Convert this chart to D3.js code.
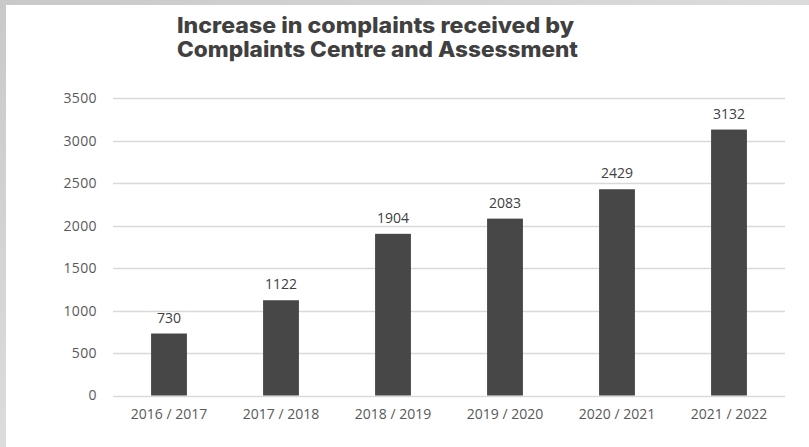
<!DOCTYPE html>
<html>
<head>
<meta charset="utf-8">
<script src="https://cdn.jsdelivr.net/npm/d3@7"></script>
<style>
  html, body { margin: 0; padding: 0; background: #d6d6d6; }
  svg { display: block; }
</style>
</head>
<body>
<script>
// Complaints received per financial year
const categories = ["2016 / 2017", "2017 / 2018", "2018 / 2019", "2019 / 2020", "2020 / 2021", "2021 / 2022"];
const complaints = [730, 1122, 1904, 2083, 2429, 3132];
const yTicks = [0, 500, 1000, 1500, 2000, 2500, 3000, 3500];
const titleLines = ["Increase in complaints received by", "Complaints Centre and Assessment"];

const W = 809, H = 447;
const svg = d3.select("body").append("svg").attr("width", W).attr("height", H);

// frame: grey backdrop with white card
const defs = svg.append("defs");
const g1 = defs.append("linearGradient").attr("id", "frame").attr("x1", 0).attr("x2", 1).attr("y1", 0).attr("y2", 1);
g1.append("stop").attr("offset", "0%").attr("stop-color", "#c9c9c9");
g1.append("stop").attr("offset", "50%").attr("stop-color", "#dcdcdc");
g1.append("stop").attr("offset", "100%").attr("stop-color", "#d2d2d2");
svg.append("rect").attr("width", W).attr("height", H).attr("fill", "url(#frame)");
svg.append("rect").attr("x", 6).attr("y", 5).attr("width", W - 6).attr("height", H - 5).attr("fill", "#ffffff");

const margin = { left: 113, right: 24, top: 98.3, bottom: 51.5 };
const plotW = W - margin.left - margin.right;
const plotH = H - margin.top - margin.bottom;

const x = d3.scaleBand().domain(categories).range([margin.left, margin.left + plotW]).paddingInner(0.68).paddingOuter(0.34);
const y = d3.scaleLinear().domain([0, 3500]).range([margin.top + plotH, margin.top]);

const labelFont = "'Open Sans', sans-serif";

// gridlines
svg.append("g")
  .selectAll("line").data(yTicks).join("line")
  .attr("x1", margin.left).attr("x2", margin.left + plotW)
  .attr("y1", d => Math.round(y(d)) + 0.5).attr("y2", d => Math.round(y(d)) + 0.5)
  .attr("stroke", "#d9d9d9").attr("stroke-width", 1.3);

// y axis labels
const yAxis = svg.append("g")
  .attr("transform", `translate(${margin.left},0)`)
  .call(d3.axisLeft(y).tickValues(yTicks).tickSize(0).tickPadding(16).tickFormat(d3.format("d")));
yAxis.select(".domain").remove();
yAxis.selectAll("text")
  .attr("font-family", labelFont).attr("font-size", 14).attr("fill", "#595959")
  .attr("letter-spacing", 0.4);

// bars
svg.append("g").selectAll("rect").data(categories).join("rect")
  .attr("x", d => x(d))
  .attr("width", x.bandwidth())
  .attr("y", (d, i) => y(complaints[i]))
  .attr("height", (d, i) => y(0) - y(complaints[i]))
  .attr("fill", "#474747");

// value labels
svg.append("g").selectAll("text").data(categories).join("text")
  .attr("x", d => x(d) + x.bandwidth() / 2)
  .attr("y", (d, i) => y(complaints[i]) - 11)
  .attr("text-anchor", "middle")
  .attr("font-family", labelFont).attr("font-size", 14).attr("fill", "#404040")
  .text((d, i) => complaints[i]);

// x axis labels
const xAxis = svg.append("g")
  .attr("transform", `translate(0,${y(0)})`)
  .call(d3.axisBottom(x).tickSize(0).tickPadding(14));
xAxis.select(".domain").remove();
xAxis.selectAll("text")
  .attr("font-family", labelFont).attr("font-size", 14).attr("fill", "#595959");

// title
const titleWidths = [397, 401];
svg.append("g").selectAll("text").data(titleLines).join("text")
  .attr("x", 177)
  .attr("y", (d, i) => 32.5 + i * 24)
  .attr("font-family", "Inter, 'Open Sans', sans-serif").attr("font-weight", 800)
  .attr("font-size", 21.5).attr("fill", "#404040")
  .attr("textLength", (d, i) => titleWidths[i]).attr("lengthAdjust", "spacingAndGlyphs")
  .text(d => d);
</script>
</body>
</html>
